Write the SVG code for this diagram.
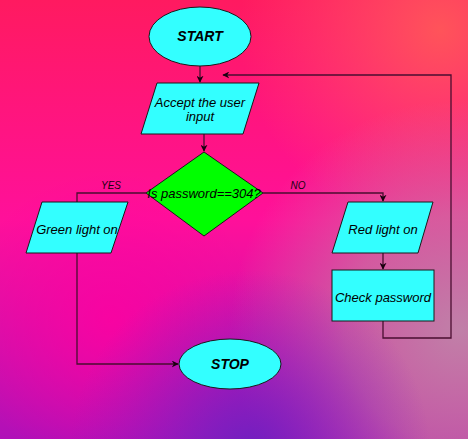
<svg xmlns="http://www.w3.org/2000/svg" width="468" height="439" viewBox="0 0 468 439">
<defs>
<linearGradient id="bg" x1="0" y1="0" x2="0" y2="1">
<stop offset="0" stop-color="#ff1a60"/>
<stop offset="0.5" stop-color="#ff109a"/>
<stop offset="1" stop-color="#b010b8"/>
</linearGradient>
<radialGradient id="r1" cx="460" cy="330" r="230" gradientUnits="userSpaceOnUse">
<stop offset="0" stop-color="#c080a8" stop-opacity="1"/>
<stop offset="0.5" stop-color="#c878a0" stop-opacity="0.7"/>
<stop offset="1" stop-color="#d070a0" stop-opacity="0"/>
</radialGradient>
<radialGradient id="r2" cx="250" cy="450" r="180" gradientUnits="userSpaceOnUse">
<stop offset="0" stop-color="#7020c0" stop-opacity="1"/>
<stop offset="1" stop-color="#8a20c0" stop-opacity="0"/>
</radialGradient>
<radialGradient id="r3" cx="440" cy="30" r="200" gradientUnits="userSpaceOnUse">
<stop offset="0" stop-color="#ff5a58" stop-opacity="0.9"/>
<stop offset="1" stop-color="#ff5070" stop-opacity="0"/>
</radialGradient>
<radialGradient id="r4" cx="110" cy="320" r="150" gradientUnits="userSpaceOnUse">
<stop offset="0" stop-color="#ff00a0" stop-opacity="0.8"/>
<stop offset="1" stop-color="#ff00a0" stop-opacity="0"/>
</radialGradient>
<marker id="ah" viewBox="0 0 10 10" refX="9" refY="5" markerWidth="7" markerHeight="7" markerUnits="userSpaceOnUse" orient="auto">
<path d="M0,0 L10,5 L0,10 L3,5 Z" fill="#1a0010"/>
</marker>
<style>
.shape{fill:#33ffff;stroke:#1a1a1a;stroke-width:1}
.dec{fill:#00ff00;stroke:#1a1a1a;stroke-width:1}
.t{font-family:"Liberation Sans",Arial,sans-serif;font-style:italic;font-size:13px;fill:#000;text-anchor:middle;dominant-baseline:central}
.tb{font-family:"Liberation Sans",Arial,sans-serif;font-style:italic;font-weight:bold;font-size:14px;fill:#000;text-anchor:middle;dominant-baseline:central}
.lbl{font-family:"Liberation Sans",Arial,sans-serif;font-style:italic;font-size:10px;fill:#1a0010;text-anchor:middle;dominant-baseline:central}
.c{fill:none;stroke:#4a0e30;stroke-width:1.3}
</style>
</defs>
<rect width="468" height="439" fill="url(#bg)"/>
<rect width="468" height="439" fill="url(#r4)"/>
<rect width="468" height="439" fill="url(#r3)"/>
<rect width="468" height="439" fill="url(#r1)"/>
<rect width="468" height="439" fill="url(#r2)"/>

<g id="connectors">
<path class="c" d="M200,66 L200,82" marker-end="url(#ah)"/>
<path class="c" d="M204,134 L204,151" marker-end="url(#ah)"/>
<path class="c" d="M146,193 L77,193 L77,202"/>
<path class="c" d="M77,253 L77,364 L178,364" marker-end="url(#ah)"/>
<path class="c" d="M263,193 L383,193 L383,201" marker-end="url(#ah)"/>
<path class="c" d="M383,253 L383,269" marker-end="url(#ah)"/>
<path class="c" d="M383,321 L383,338 L451,338 L451,75 L223,75" marker-end="url(#ah)"/>
<text class="lbl" x="111" y="185">YES</text>
<text class="lbl" x="298" y="185">NO</text>
</g>

<g id="start">
<ellipse class="shape" cx="200" cy="36.5" rx="51" ry="29.5"/>
<text class="tb" x="200" y="36">START</text>
</g>
<g id="accept">
<polygon class="shape" points="157,83 259,83 243,134 141,134"/>
<text class="t" x="200" y="102">Accept the user</text>
<text class="t" x="200" y="116.5">input</text>
</g>
<g id="decision">
<polygon class="dec" points="204,152 263,193 204,236 146,193"/>
<text class="t" x="204" y="193">Is password==304?</text>
</g>
<g id="green">
<polygon class="shape" points="42,202 128,202 111,253 26,253"/>
<text class="t" x="77" y="229">Green light on</text>
</g>
<g id="red">
<polygon class="shape" points="348,202 433,202 418,253 332,253"/>
<text class="t" x="383" y="229">Red light on</text>
</g>
<g id="check">
<rect class="shape" x="332" y="270" width="102" height="51"/>
<text class="t" x="383" y="297">Check password</text>
</g>
<g id="stop">
<ellipse class="shape" cx="230" cy="364" rx="51" ry="25"/>
<text class="tb" x="230" y="364">STOP</text>
</g>
</svg>
